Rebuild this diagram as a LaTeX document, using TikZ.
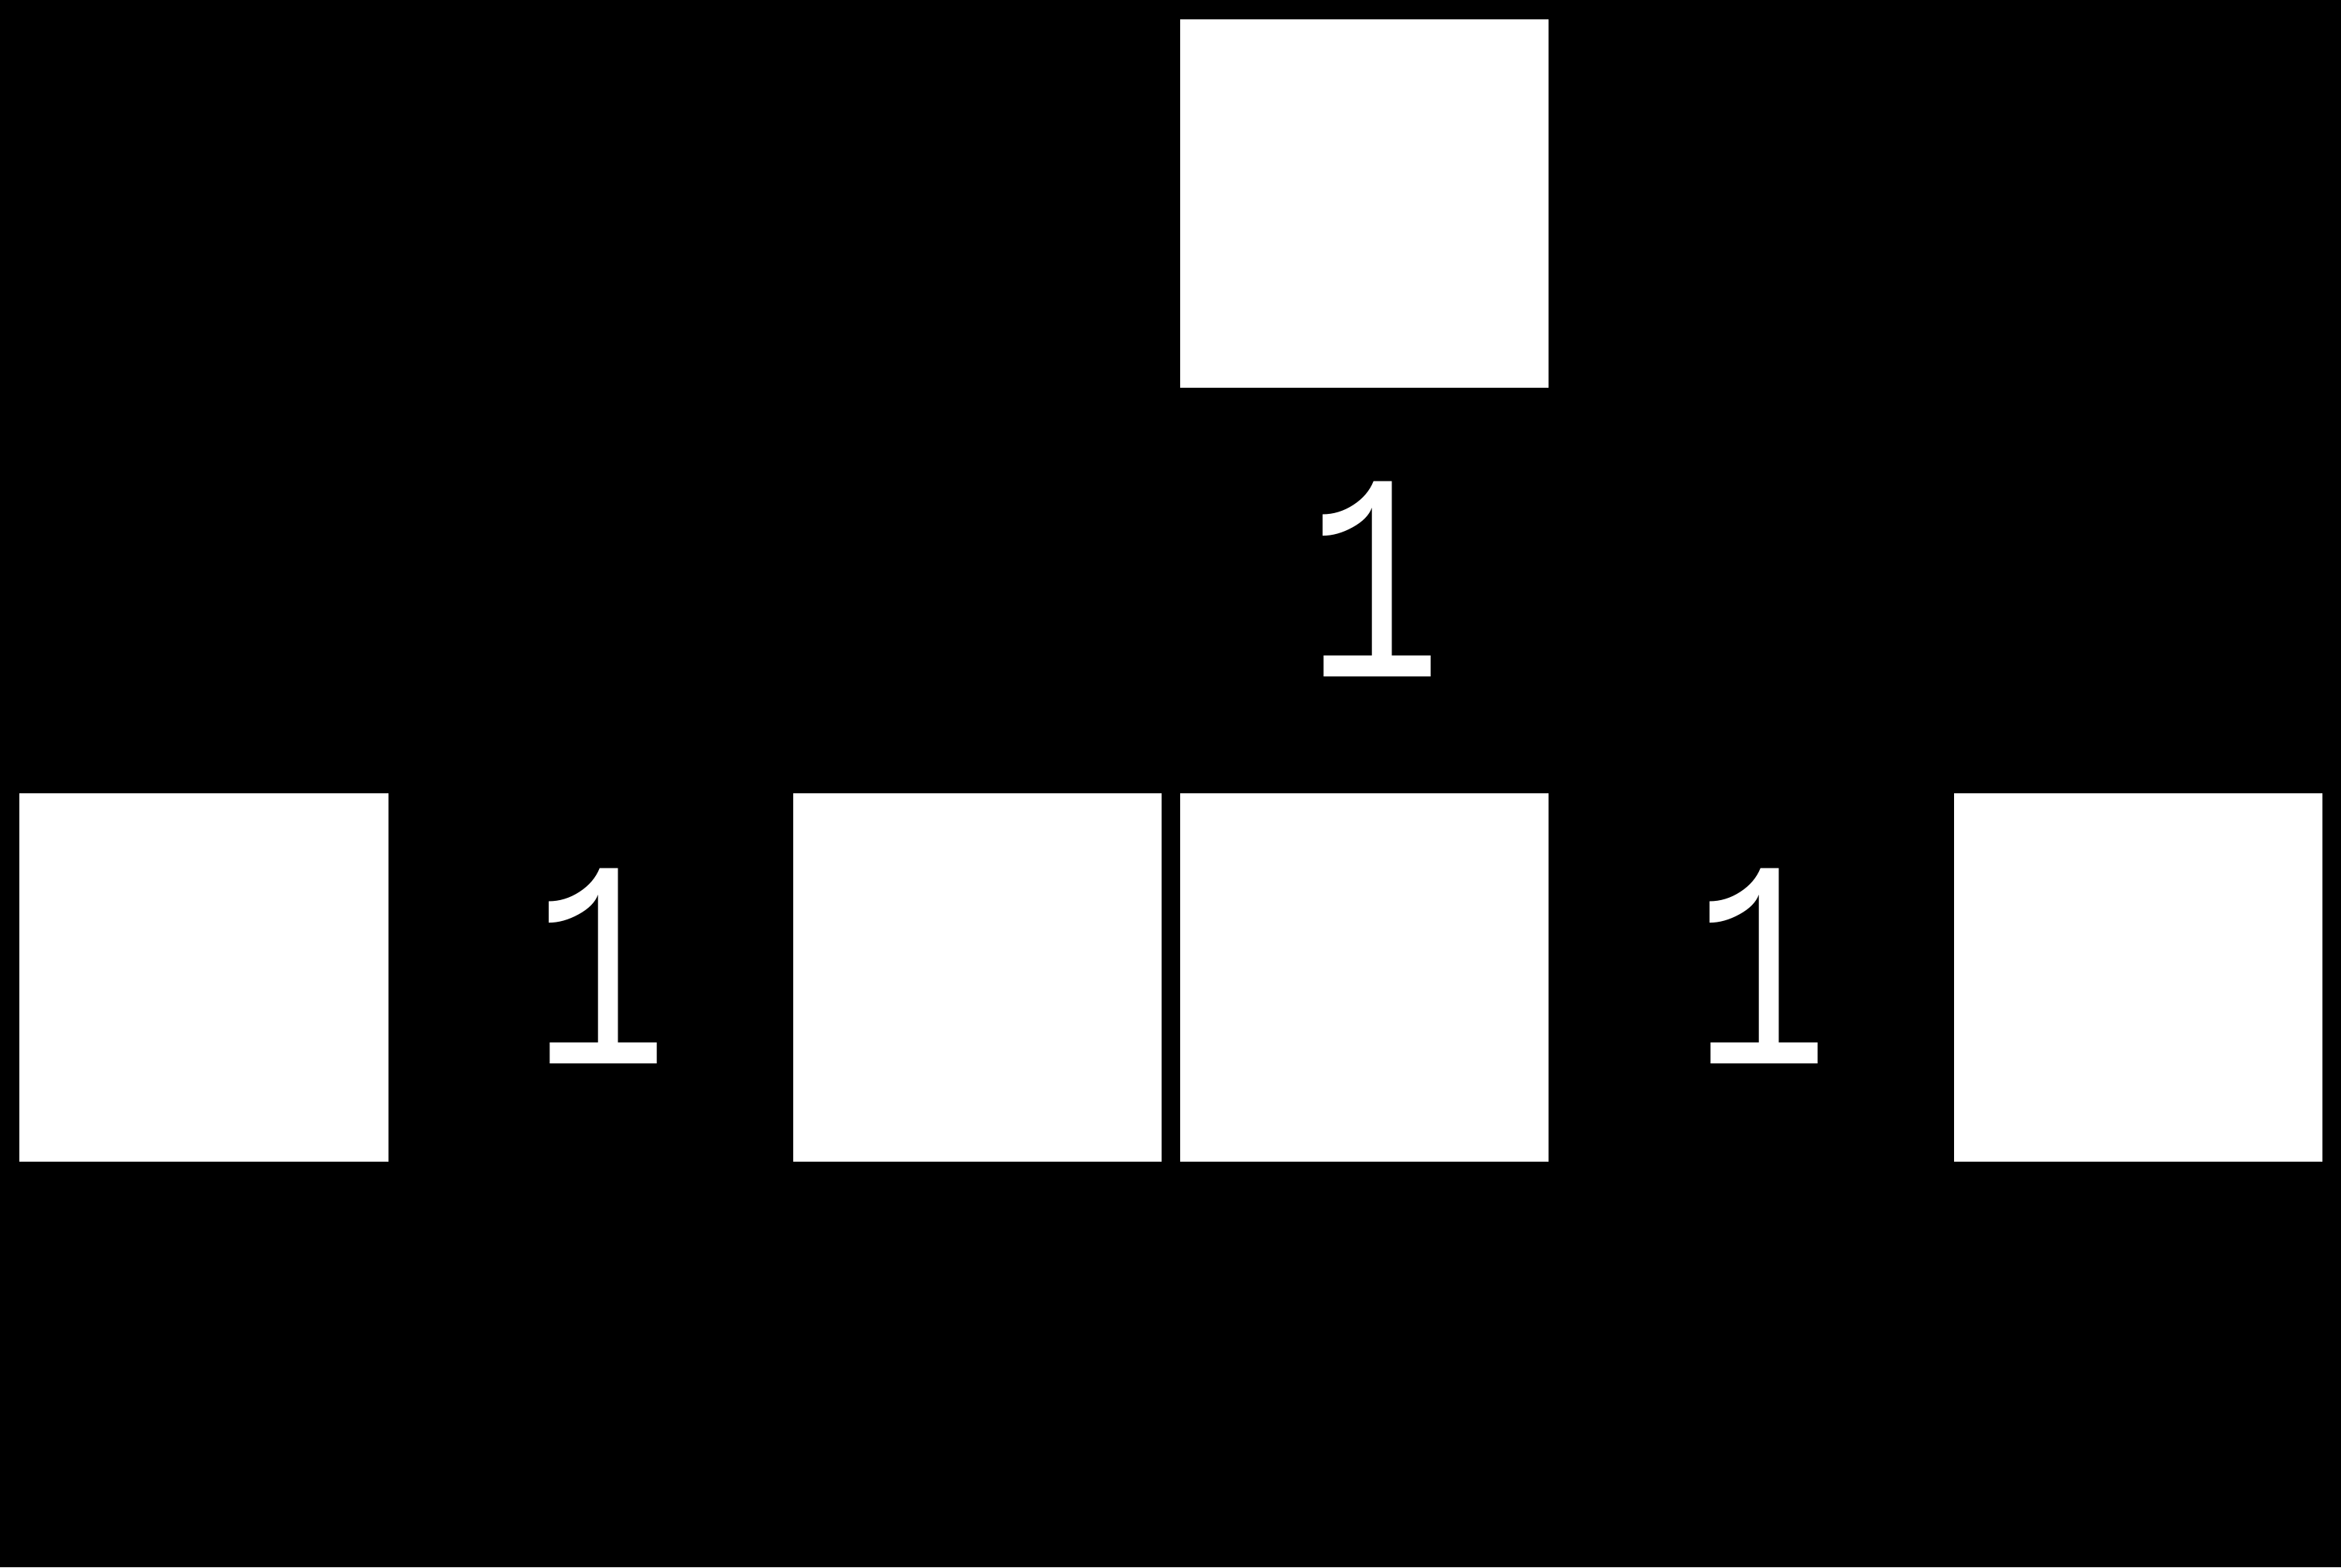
\documentclass[tikz,border=0pt]{standalone}
\usepackage{fontspec}
\newfontfamily\labelfont[FakeStretch=0.76]{Liberation Mono}
\usepackage{tikz}
\usetikzlibrary{positioning}

\begin{document}
\begin{tikzpicture}[
    box/.style={fill=white, minimum size=4.76cm, inner sep=0pt, outer sep=0pt},
    lab/.style={text=white, inner sep=0pt, font=\labelfont\fontsize{109}{110}\selectfont}
]

% Background
\useasboundingbox (0,0) rectangle (30.25,-20.25);
\fill[black] (0,0) rectangle (30.25,-20.25);

% Draw the squares
\node[box] (top) at (17.625,-2.625) {};
\node[box] (b1) at (2.635,-12.63) {};
\node[box] (b2) at (12.625,-12.63) {};
\node[box] (b3) at (17.625,-12.63) {};
\node[box] (b4) at (27.625,-12.63) {};

% Add the labels
\node[lab] (ltop) at (17.76,-7.48) {1};
\node[lab] (lleft) at (7.76,-12.48) {1};
\node[lab] (lright) at (22.76,-12.48) {1};

\end{tikzpicture}
\end{document}
